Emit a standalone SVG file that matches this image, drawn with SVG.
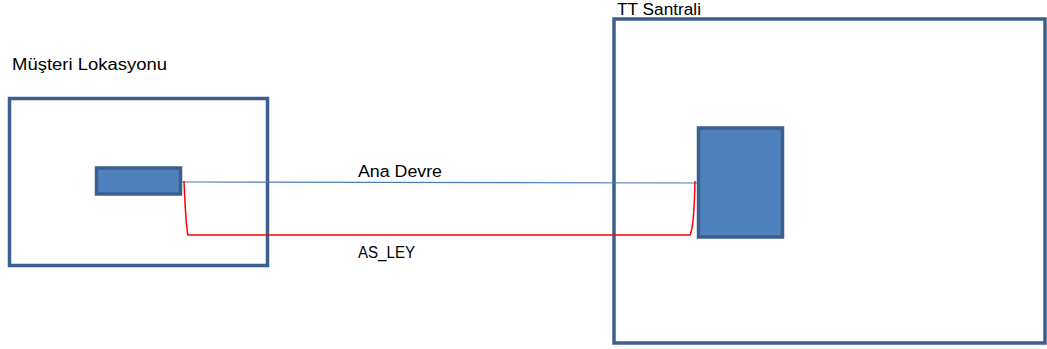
<svg xmlns="http://www.w3.org/2000/svg" width="1047" height="349" viewBox="0 0 1047 349">
<style>
.frame{fill:none;stroke:#3B5F8E;stroke-width:3.5}
.dev{fill:#4F81BD;stroke:#3B5F8E;stroke-width:3.5}
.lbl{font-family:"Liberation Sans",Arial,sans-serif;font-size:16px;fill:#000}
.blue{fill:none;stroke:#4A7EBB;stroke-width:1.2}
.red{fill:none;stroke:#FF0000;stroke-width:1.5}
</style>
<rect width="1047" height="349" fill="#fff"/>
<g id="musteri">
<rect class="frame" x="9.5" y="98.5" width="258" height="167"/>
<text class="lbl" x="12" y="70" textLength="155" lengthAdjust="spacingAndGlyphs">Müşteri Lokasyonu</text>
</g>
<g id="musteri-cihaz">
<rect class="dev" x="96.5" y="168" width="84" height="26"/>
</g>
<g id="santral">
<rect class="frame" x="614" y="19" width="431" height="324"/>
<text class="lbl" x="617" y="15" textLength="84" lengthAdjust="spacingAndGlyphs">TT Santrali</text>
</g>
<g id="santral-cihaz">
<rect class="dev" x="698.5" y="128" width="84" height="109"/>
</g>
<g id="connectors">
<path class="blue" d="M182,182 L697,183"/>
<path class="red" d="M184,181 Q186,228 188,235 L690,235 Q694,228 695,181"/>
<text class="lbl" x="358" y="177" textLength="84" lengthAdjust="spacingAndGlyphs">Ana Devre</text>
<text class="lbl" x="358" y="257.5" textLength="57" lengthAdjust="spacingAndGlyphs">AS_LEY</text>
</g>
</svg>
